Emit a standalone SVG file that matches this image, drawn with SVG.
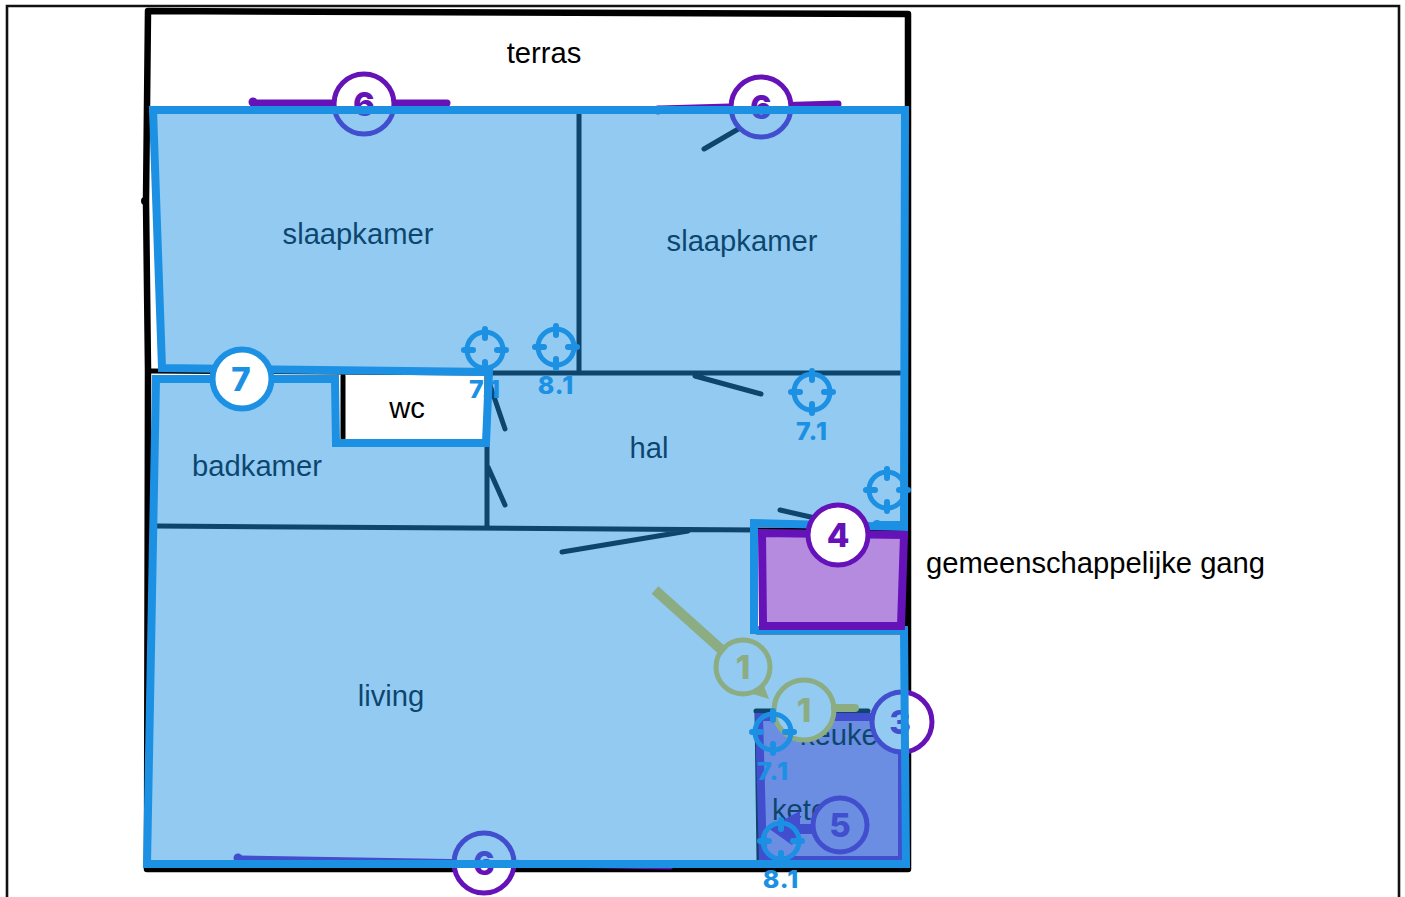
<svg xmlns="http://www.w3.org/2000/svg" width="1405" height="897" viewBox="0 0 1405 897">
<defs>
<style>
.t{font-family:"Liberation Sans",Arial,sans-serif;font-size:29.2px;fill:#000;text-anchor:middle}
.n{font-family:Inter,Roboto,"Liberation Sans",sans-serif;font-size:33px;font-weight:800;text-anchor:middle}
.l{font-family:Inter,Roboto,"Liberation Sans",sans-serif;font-size:25px;font-weight:800;text-anchor:middle;fill:#1c90e3;letter-spacing:1px}
.w{fill:none;stroke:#000;stroke-width:5;stroke-linecap:round;stroke-linejoin:round}
.p{fill:none;stroke:#6512b8;stroke-width:7;stroke-linecap:round}
.cp{fill:#fff;stroke:#6512b8;stroke-width:5}
.g{fill:none;stroke:#8cac82;stroke-width:5}
.tg{fill:none;stroke:#1c90e3;stroke-width:5}
.tk{fill:none;stroke:#1c90e3;stroke-width:6;stroke-linecap:round}
</style>
<g id="target">
<circle r="18" class="tg"/>
<path class="tk" d="M-21 0H-12M12 0H21M0-21V-12M0 12V21"/>
</g>
</defs>
<rect width="1405" height="897" fill="#fff"/>
<path id="frame" d="M7 897V6H1399V897" fill="none" stroke="#111" stroke-width="2.6"/>
<g id="connectors">
<path class="w" style="stroke-width:6.5" d="M148 11L146 201L148 370L147 869H908V14Z"/>
<circle cx="145" cy="201" r="4"/>
<path class="w" d="M579 110V373M150 371L489 373H900M487 373V527M157 526L757 530H903M704 149L740 128M695 376L761 394M490 385L505 429M488 467L505 505M562 552L688 531M780 510L815 518M343 376V438M756 711H868M757 711L759 860M757 632H905"/>
<path class="p" d="M253 103H447M660 109L838 104M240 859L670 866"/>
<circle cx="253" cy="102" r="4.500" fill="#6512b8"/>
<circle cx="658" cy="110" r="4.500" fill="#6512b8"/>
<circle cx="238" cy="858" r="4.500" fill="#6512b8"/>
</g>
<g id="labels">
<text class="t" x="544" y="63">terras</text>
<text class="t" x="358" y="244">slaapkamer</text>
<text class="t" x="742" y="251">slaapkamer</text>
<text class="t" x="407" y="418">wc</text>
<text class="t" x="257" y="476">badkamer</text>
<text class="t" x="649" y="458">hal</text>
<text class="t" x="391" y="706">living</text>
<text class="t" x="1095.500" y="573">gemeenschappelijke gang</text>
</g>
<g id="kitchen">
<path d="M759 717H902V860H763Z" fill="#b58be0" stroke="#6512b8" stroke-width="8"/>
<text class="t" x="847" y="745">keuken</text>
<text class="t" x="772" y="820" style="text-anchor:start">ketel</text>
</g>
<g id="node-5">
<path d="M800 811L768 828L792 845L800 834H814V824H800Z" fill="#6512b8"/>
<circle cx="840" cy="825" r="27" fill="#b58be0" stroke="#6512b8" stroke-width="5"/>
<text class="n" x="840" y="837" fill="#6512b8">5</text>
</g>
<g id="node-3">
<circle class="cp" cx="902" cy="722" r="30"/>
<text class="n" x="900" y="734" fill="#6512b8">3</text>
</g>
<g id="node-6a"><circle class="cp" cx="364" cy="104" r="30"/><text class="n" x="364" y="116" fill="#6512b8">6</text></g>
<g id="node-6b"><circle class="cp" cx="761" cy="107" r="30"/><text class="n" x="761" y="119" fill="#6512b8">6</text></g>
<g id="node-6c"><circle class="cp" cx="484" cy="863" r="30"/><text class="n" x="484" y="875" fill="#6512b8">6</text></g>
<circle cx="743" cy="667" r="27" fill="#fff"/>
<circle cx="804" cy="710" r="30" fill="#fff"/>
<path id="zone-7" d="M153 110H905L904 527L754 523V630H904L906 864H147L156 379H335L336 443H486L489 372L162 368Z" fill="#1c90e3" fill-opacity=".48" stroke="#1c90e3" stroke-width="8" stroke-linejoin="miter"/>
<path d="M877 524H900" stroke="#1c90e3" stroke-width="6" stroke-linecap="round"/>
<circle cx="877" cy="525" r="5" fill="#1c90e3"/>
<g id="node-1a">
<path d="M655 590L724 652" stroke="#8cac82" stroke-width="10" fill="none"/>
<circle class="g" cx="743" cy="667" r="27"/>
<path d="M753 694L769 699L764 686Z" fill="#8cac82"/>
<text class="n" x="743" y="679" fill="#8cac82">1</text>
</g>
<g id="node-1b">
<path d="M835 708H855" stroke="#8cac82" stroke-width="8" stroke-linecap="round" fill="none"/>
<circle class="g" cx="804" cy="710" r="30"/>
<text class="n" x="804" y="722" fill="#8cac82">1</text>
</g>
<g id="node-7">
<circle cx="242" cy="379" r="29.500" fill="#fff" stroke="#1c90e3" stroke-width="6"/>
<text class="n" x="241" y="391" fill="#1c90e3">7</text>
</g>
<g id="node-4">
<path d="M762 533L904 535L901 626H763Z" fill="#b58be0" stroke="#6512b8" stroke-width="8"/>
<circle class="cp" cx="838" cy="535" r="30"/>
<text class="n" x="838" y="547" fill="#6512b8">4</text>
</g>
<g id="targets">
<use href="#target" x="485" y="350"/><text class="l" x="485" y="398">7.1</text>
<use href="#target" x="556" y="347"/><text class="l" x="556" y="394">8.1</text>
<use href="#target" x="812" y="392"/><text class="l" x="812" y="440">7.1</text>
<use href="#target" x="887" y="490"/>
<use href="#target" x="773" y="732"/><text class="l" x="773" y="780">7.1</text>
<use href="#target" x="781" y="841"/><text class="l" x="781" y="888">8.1</text>
</g>
</svg>
